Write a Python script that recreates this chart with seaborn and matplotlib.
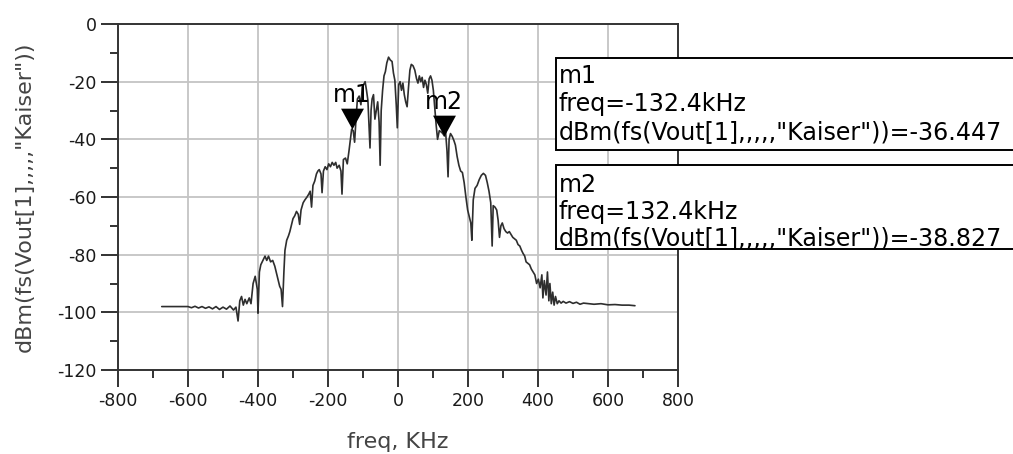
import numpy as np
import pandas as pd
import matplotlib
matplotlib.use("Agg")
import matplotlib.pyplot as plt
import seaborn as sns
from matplotlib.path import Path
from matplotlib.patches import Rectangle
from matplotlib.ticker import MultipleLocator

# ---------------- data ----------------
freq_khz = [
    -675, -640, -600, -590, -580, -570, -560, -550, -540, -530, -520, -510,
    -500, -490, -480, -470, -463, -457, -452, -447, -442, -437, -432, -425,
    -420, -414, -408, -402, -400, -396, -392, -386, -380, -375, -370, -364,
    -358, -352, -345, -338, -334, -330, -326, -323, -318, -313, -309, -304,
    -300, -295, -290, -285, -281, -277, -271, -266, -260, -255, -251, -247,
    -243, -238, -233, -229, -225, -220, -217, -213, -208, -203, -198, -193,
    -188, -183, -178, -174, -168, -163, -160, -156, -150, -145, -140, -136,
    -132.4, -128, -124, -120, -116, -111, -106, -102, -98, -94, -90, -86,
    -82, -80, -77, -74, -70, -66, -62, -58, -54, -51, -48, -44,
    -40, -36, -32, -27, -22, -17, -13, -9, -5, -2, 2, 6,
    10, 14, 18, 22, 26, 30, 34, 38, 43, 48, 53, 57,
    61, 65, 69, 73, 77, 81, 85, 89, 93, 97, 101, 105,
    109, 113, 118, 124, 128, 132.4, 136, 140, 143, 146, 150, 155,
    160, 164, 169, 174, 179, 184, 189, 194, 199, 204, 208, 211,
    215, 220, 226, 232, 238, 244, 250, 255, 260, 265, 269, 272,
    277, 282, 286, 290, 294, 298, 303, 308, 313, 318, 323, 328,
    333, 338, 343, 348, 353, 357, 362, 366, 371, 376, 381, 386,
    391, 396, 401, 406, 411, 414, 418, 423, 427, 431, 434, 438,
    442, 446, 450, 455, 460, 466, 472, 480, 490, 500, 510, 520,
    530, 545, 560, 580, 600, 620, 640, 660, 677,
]
dbm = [
    -98.0, -98.0, -98.0, -98.4, -97.9, -98.5, -98.0, -98.6, -98.1, -98.8, -98.0, -99.0,
    -98.2, -98.9, -97.8, -99.2, -98.2, -103.0, -96.0, -94.5, -97.5, -95.5, -97.0, -95.0,
    -97.0, -90.0, -87.5, -92.0, -100.3, -86.0, -83.5, -82.0, -80.5, -82.0, -80.5, -82.5,
    -82.0, -84.0, -87.5, -91.0, -92.0, -98.0, -86.0, -78.5, -75.0, -73.5, -72.0, -69.5,
    -67.5, -66.5, -65.0, -66.0, -69.5, -64.5, -62.0, -61.0, -60.0, -59.0, -58.0, -63.5,
    -56.0, -54.5, -52.0, -51.0, -50.5, -52.0, -58.5, -51.0, -49.5, -50.5, -48.5, -49.5,
    -48.0, -49.0, -48.0, -50.0, -49.0, -51.0, -59.0, -47.0, -46.5, -48.5, -44.0, -40.0,
    -36.447, -37.0, -41.0, -33.0, -26.0, -25.0, -28.0, -22.0, -21.0, -20.0, -23.0, -26.5,
    -37.0, -43.0, -30.0, -26.0, -24.5, -33.0, -30.0, -27.0, -34.0, -49.0, -30.0, -23.0,
    -18.0, -16.5, -13.5, -11.5, -12.5, -13.0, -17.0, -19.5, -28.0, -36.0, -21.0, -20.0,
    -23.0, -20.5, -24.5, -27.0, -28.7, -22.0, -16.0, -14.0, -14.5, -16.0, -19.0, -20.5,
    -18.0, -20.0, -18.5, -22.0, -19.5, -21.0, -24.0, -19.0, -18.0, -19.5, -23.0, -29.0,
    -35.0, -40.0, -37.0, -37.5, -38.0, -38.827, -37.5, -44.0, -53.0, -40.0, -38.0, -39.0,
    -40.5, -42.0, -46.0, -49.0, -51.0, -51.5, -55.0, -60.0, -64.5, -67.0, -69.0, -75.0,
    -61.0, -57.0, -56.0, -54.0, -52.5, -51.8, -52.5, -55.0, -58.0, -62.0, -77.0, -63.0,
    -63.5, -64.5, -68.0, -74.0, -70.0, -69.0, -71.0, -72.0, -72.5, -72.0, -73.0, -74.0,
    -74.5, -75.0, -76.5, -77.0, -78.5, -79.5, -80.5, -82.5, -83.0, -83.5, -85.0, -86.0,
    -87.0, -90.0, -88.5, -91.5, -87.0, -95.0, -89.0, -94.0, -86.0, -96.0, -90.0, -97.0,
    -93.0, -97.5, -94.5, -97.0, -96.0, -96.8, -96.2, -96.8, -96.3, -96.9, -96.5, -97.2,
    -96.8, -97.0, -97.2, -97.0, -97.4, -97.3, -97.5, -97.5, -97.7,
]

marker_names = ["m1", "m2"]
marker_freq = [-132.4, 132.4]
marker_dbm = [-36.447, -38.827]

x_ticks = [-800, -600, -400, -200, 0, 200, 400, 600, 800]
y_ticks = [-120, -100, -80, -60, -40, -20, 0]

x_label = "freq, KHz"
y_label = 'dBm(fs(Vout[1],,,,,"Kaiser"))'

box_lines = [
    ["m1", "freq=-132.4kHz", 'dBm(fs(Vout[1],,,,,"Kaiser"))=-36.447'],
    ["m2", "freq=132.4kHz", 'dBm(fs(Vout[1],,,,,"Kaiser"))=-38.827'],
]

# ---------------- figure ----------------
sns.set_theme(style="white")
plt.rcParams['font.family'] = ['DejaVu Sans']
plt.rcParams['axes.unicode_minus'] = False

W, H = 1013, 454
fig = plt.figure(figsize=(W / 100, H / 100), dpi=100)
fig.patch.set_facecolor("white")

# axes box in pixels: x 118..678, y 24..370
ax = fig.add_axes([118 / W, 1 - 370 / H, (678 - 118) / W, (370 - 24) / H])

df = pd.DataFrame({"freq": freq_khz, "dbm": dbm})
sns.lineplot(data=df, x="freq", y="dbm", ax=ax, color="#2e2e2e",
             linewidth=1.2, estimator=None, sort=False, zorder=3)

ax.set_xlim(-800, 800)
ax.set_ylim(-120, 0)
ax.set_xticks(x_ticks)
ax.set_yticks(y_ticks)
ax.xaxis.set_minor_locator(MultipleLocator(100))
ax.yaxis.set_minor_locator(MultipleLocator(10))
ax.grid(True, which="major", color="#c4c4c4", linewidth=1.3)
ax.set_axisbelow(True)

ax.tick_params(axis="both", which="major", direction="out", length=12,
               width=1.3, color="#222222", labelsize=12.5, pad=3.5,
               labelcolor="#1a1a1a", bottom=True, left=True)
ax.tick_params(axis="both", which="minor", direction="out", length=6,
               width=1.3, color="#222222", bottom=True, left=True)
for s in ax.spines.values():
    s.set_visible(True)
    s.set_color("#333333")
    s.set_linewidth(1.4)

ax.set_xlabel(x_label, fontsize=16, color="#444444")
ax.set_ylabel(y_label, fontsize=16, color="#444444")
ax.yaxis.set_label_coords((25 - 118) / 560, 0.5)
ax.xaxis.set_label_coords(0.5, (370 - 442) / 346)
ax.xaxis.label.set_va("center")
ax.yaxis.label.set_va("center")

# downward triangle marker whose tip sits on the data point
tri = Path([(-1.1, 2.0), (1.1, 2.0), (0.0, 0.0), (-1.1, 2.0)],
           [Path.MOVETO, Path.LINETO, Path.LINETO, Path.CLOSEPOLY])
ax.plot(marker_freq, marker_dbm, linestyle="none", marker=tri,
        markersize=30, color="black", markeredgewidth=0, zorder=6,
        clip_on=False)
for name, fx, fy in zip(marker_names, marker_freq, marker_dbm):
    ax.annotate(name, (fx, fy), xytext=(0, 19.5), textcoords="offset points",
                ha="center", va="baseline", fontsize=17, color="black",
                zorder=7)

# marker readout boxes (pixel layout)
box_tops = [58, 165]
box_bottoms = [150, 249]
baselines = [[83, 111, 139], [192, 219, 245]]
for lines, top, bot, bl in zip(box_lines, box_tops, box_bottoms, baselines):
    rect = Rectangle((556 / W, 1 - bot / H), (1100 - 556) / W, (bot - top) / H,
                     transform=fig.transFigure, facecolor="white",
                     edgecolor="black", linewidth=1.4, zorder=10)
    fig.add_artist(rect)
    for line, b in zip(lines, bl):
        fig.text(558.5 / W, 1 - b / H, line, ha="left", va="baseline",
                 fontsize=17.1, color="black", zorder=11)

fig.savefig("out.png", dpi=100)
